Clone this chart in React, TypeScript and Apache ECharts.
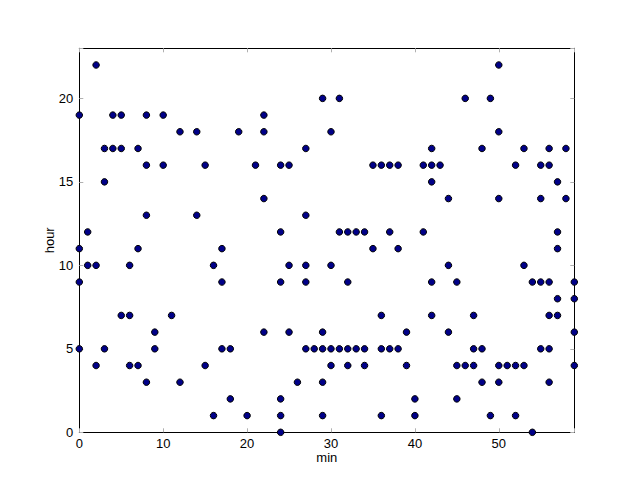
import React, { useEffect, useRef } from "react";
import * as echarts from "echarts";

const minutes = [
  0, 0, 0, 0,
  1, 1,
  2, 2, 2,
  3, 3, 3,
  4, 4,
  5, 5, 5,
  6, 6, 6,
  7, 7, 7,
  8, 8, 8, 8,
  9, 9,
  10, 10,
  11,
  12, 12,
  14, 14,
  15, 15,
  16, 16,
  17, 17, 17,
  18, 18,
  19,
  20,
  21,
  22, 22, 22, 22,
  24, 24, 24, 24, 24, 24,
  25, 25, 25,
  26,
  27, 27, 27, 27, 27,
  28,
  29, 29, 29, 29, 29,
  30, 30, 30, 30,
  31, 31, 31,
  32, 32, 32, 32,
  33, 33,
  34, 34, 34,
  35, 35,
  36, 36, 36, 36,
  37, 37, 37,
  38, 38, 38,
  39, 39,
  40, 40,
  41, 41,
  42, 42, 42, 42, 42,
  43,
  44, 44, 44,
  45, 45, 45,
  46, 46,
  47, 47, 47,
  48, 48, 48,
  49, 49,
  50, 50, 50, 50, 50,
  51,
  52, 52, 52,
  53, 53, 53,
  54, 54,
  55, 55, 55, 55,
  56, 56, 56, 56, 56, 56,
  57, 57, 57, 57, 57,
  58, 58,
  59, 59, 59, 59,
];

const hours = [
  19, 11, 9, 5,
  12, 10,
  22, 10, 4,
  17, 15, 5,
  19, 17,
  19, 17, 7,
  10, 7, 4,
  17, 11, 4,
  19, 16, 13, 3,
  6, 5,
  19, 16,
  7,
  18, 3,
  18, 13,
  16, 4,
  10, 1,
  11, 9, 5,
  5, 2,
  18,
  1,
  16,
  19, 18, 14, 6,
  16, 12, 9, 2, 1, 0,
  16, 10, 6,
  3,
  17, 13, 10, 9, 5,
  5,
  20, 6, 5, 3, 1,
  18, 10, 5, 4,
  20, 12, 5,
  12, 9, 5, 4,
  12, 5,
  12, 5, 4,
  16, 11,
  16, 7, 5, 1,
  16, 12, 5,
  16, 11, 5,
  6, 4,
  2, 1,
  16, 12,
  17, 16, 15, 9, 7,
  16,
  14, 10, 6,
  9, 4, 2,
  20, 4,
  7, 5, 4,
  17, 5, 3,
  20, 1,
  22, 18, 14, 4, 3,
  4,
  16, 4, 1,
  17, 10, 4,
  9, 0,
  16, 14, 9, 5,
  17, 16, 9, 7, 5, 3,
  15, 12, 11, 8, 7,
  17, 14,
  9, 8, 6, 4,
];

const FONT = "'Liberation Sans', Arial, Helvetica, sans-serif";

export default function App() {
  const ref = useRef<HTMLDivElement>(null);

  useEffect(() => {
    if (!ref.current) return;
    const chart = echarts.init(ref.current, null, { renderer: "svg" });
    const points = minutes.map((m, i) => [m, hours[i]]);
    const tickStyle = { show: true, inside: true, length: 4, lineStyle: { color: "#b0b0b0", width: 1 } };
    const lineStyle = { show: true, onZero: false, lineStyle: { color: "#000", width: 1 } };
    chart.setOption({
      animation: false,
      backgroundColor: "#fff",
      grid: { left: 79.3, right: 65.7, top: 48.3, bottom: 47.7, containLabel: false },
      xAxis: [
        {
          type: "value",
          position: "bottom",
          min: 0,
          max: 59,
          interval: 10,
          name: "min",
          nameLocation: "middle",
          nameGap: 19,
          nameMoveOverlap: false,
          nameTextStyle: { color: "#000", fontSize: 13, fontFamily: FONT },
          axisLine: lineStyle,
          axisTick: tickStyle,
          splitLine: { show: false },
          axisLabel: {
            color: "#000",
            fontSize: 13,
            fontFamily: FONT,
            margin: 5,
            formatter: (v: number) => (v % 10 === 0 ? String(v) : ""),
          },
        },
        {
          type: "value",
          position: "top",
          min: 0,
          max: 59,
          interval: 10,
          axisLine: lineStyle,
          axisTick: tickStyle,
          splitLine: { show: false },
          axisLabel: { show: false },
        },
      ],
      yAxis: [
        {
          type: "value",
          position: "left",
          min: 0,
          max: 23,
          interval: 5,
          name: "hour",
          nameLocation: "middle",
          nameGap: 23,
          nameMoveOverlap: false,
          nameTextStyle: { color: "#000", fontSize: 13, fontFamily: FONT },
          axisLine: lineStyle,
          axisTick: tickStyle,
          splitLine: { show: false },
          axisLabel: {
            color: "#000",
            fontSize: 13,
            fontFamily: FONT,
            margin: 6,
            formatter: (v: number) => (v % 5 === 0 ? String(v) : ""),
          },
        },
        {
          type: "value",
          position: "right",
          min: 0,
          max: 23,
          interval: 5,
          axisLine: lineStyle,
          axisTick: tickStyle,
          splitLine: { show: false },
          axisLabel: { show: false },
        },
      ],
      series: [
        {
          type: "scatter",
          xAxisIndex: 0,
          yAxisIndex: 0,
          data: points,
          symbol: "circle",
          symbolSize: 6.5,
          itemStyle: { color: "#000088", borderColor: "#000", borderWidth: 1, opacity: 1 },
        },
      ],
    });
    return () => chart.dispose();
  }, []);

  return (
    <div
      ref={ref}
      style={{ position: "fixed", left: 0, top: 0, width: 640, height: 480, background: "#fff" }}
    />
  );
}
